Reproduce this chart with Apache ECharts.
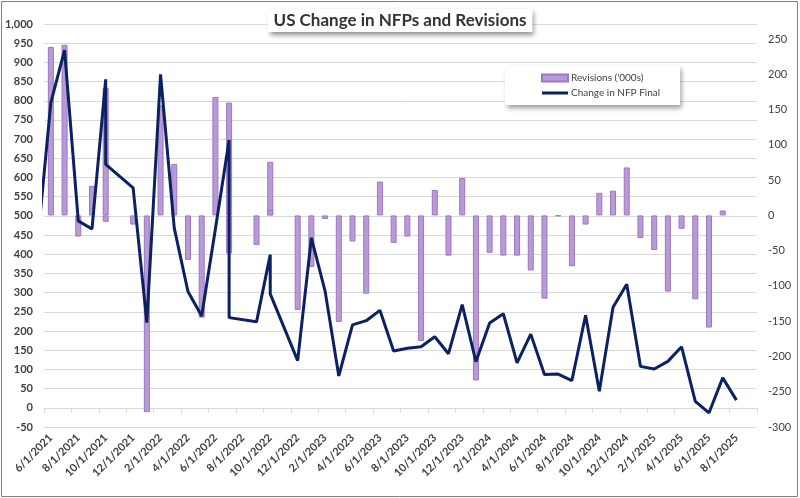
<!DOCTYPE html>
<html>
<head>
<meta charset="utf-8">
<script src="https://cdn.jsdelivr.net/npm/echarts@6/dist/echarts.min.js"></script>
<style>
  html, body { margin: 0; padding: 0; background: #fff; }
  #chart { width: 800px; height: 498px; }
</style>
</head>
<body>
<div id="chart"></div>
<script>
// x axis months (labels shown every other month)
const categories = [
    '6/1/2021', '7/1/2021', '8/1/2021', '9/1/2021', '10/1/2021', '11/1/2021', '12/1/2021',
    '1/1/2022', '2/1/2022', '3/1/2022', '4/1/2022', '5/1/2022', '6/1/2022', '7/1/2022',
    '8/1/2022', '9/1/2022', '10/1/2022', '11/1/2022', '12/1/2022',
    '1/1/2023', '2/1/2023', '3/1/2023', '4/1/2023', '5/1/2023', '6/1/2023', '7/1/2023',
    '8/1/2023', '9/1/2023', '10/1/2023', '11/1/2023', '12/1/2023',
    '1/1/2024', '2/1/2024', '3/1/2024', '4/1/2024', '5/1/2024', '6/1/2024', '7/1/2024',
    '8/1/2024', '9/1/2024', '10/1/2024', '11/1/2024', '12/1/2024',
    '1/1/2025', '2/1/2025', '3/1/2025', '4/1/2025', '5/1/2025', '6/1/2025', '7/1/2025',
    '8/1/2025', '9/1/2025'
];

// data rows (some months appear twice, some are missing)
const rowDates = [
    '5/1/2021', '6/1/2021', '7/1/2021', '8/1/2021', '9/1/2021', '10/1/2021', '10/1/2021',
    '12/1/2021', '1/1/2022', '2/1/2022', '3/1/2022', '4/1/2022', '5/1/2022', '6/1/2022',
    '7/1/2022', '7/1/2022', '9/1/2022', '10/1/2022', '10/1/2022', '12/1/2022',
    '1/1/2023', '2/1/2023', '3/1/2023', '4/1/2023', '5/1/2023', '6/1/2023', '7/1/2023',
    '8/1/2023', '9/1/2023', '10/1/2023', '11/1/2023', '12/1/2023',
    '1/1/2024', '2/1/2024', '3/1/2024', '4/1/2024', '5/1/2024', '6/1/2024', '7/1/2024',
    '8/1/2024', '9/1/2024', '10/1/2024', '11/1/2024', '12/1/2024',
    '1/1/2025', '2/1/2025', '3/1/2025', '4/1/2025', '5/1/2025', '6/1/2025', '7/1/2025',
    '8/1/2025'
];

const revisions = [
    null, 239, 242, -30, 42, 181, -9,
    -13, -279, 156, 73, -63, -145, 168,
    160, -54, -42, 76, 8, -134,
    -73, -5, -151, -37, -111, 48, -39,
    -30, -178, 36, -57, 53,
    -234, -53, -57, -57, -78, -118, -1,
    -72, -13, 32, 35, 68,
    -32, -49, -108, -19, -119, -159, 7,
    null
];

const nfpFinal = [
    420, 795, 932, 487, 466, 856, 634,
    573, 222, 869, 468, 303, 239, 466,
    698, 235, 224, 399, 297, 123,
    443, 304, 83, 216, 227, 254, 148,
    155, 159, 185, 141, 269,
    120, 221, 245, 117, 192, 87, 88,
    71, 241, 43, 262, 322,
    108, 101, 121, 159, 17, -13, 78,
    20
];

const FONT = 'Lato, "Noto Sans", sans-serif';
const BAR_COLOR = '#b89ad4';
const LINE_COLOR = '#0b2161';

function monthIndex(d) {
    const p = d.split('/');
    return (parseInt(p[2]) - 2021) * 12 + (parseInt(p[0]) - 6);
}

const barData = [];
rowDates.forEach((d, i) => {
    if (revisions[i] !== null && categories.indexOf(d) >= 0) {
        barData.push([d, revisions[i]]);
    }
});
const lineData = rowDates.map((d, i) => [monthIndex(d) + 0.5, nfpFinal[i]]);

const chart = echarts.init(document.getElementById('chart'));
chart.setOption({
    animation: false,
    textStyle: { fontFamily: FONT },
    graphic: [{
        type: 'rect',
        shape: { x: 1.5, y: 1.5, width: 796, height: 495 },
        style: { fill: 'none', stroke: '#7f7f7f', lineWidth: 1 },
        z: 100
    }],
    title: {
        text: 'US Change in NFPs and Revisions',
        left: 'center',
        top: 9,
        padding: [3, 6],
        backgroundColor: '#fff',
        shadowColor: 'rgba(0,0,0,0.45)',
        shadowBlur: 5,
        shadowOffsetX: 2,
        shadowOffsetY: 3,
        textStyle: { fontFamily: FONT, fontSize: 17, fontWeight: 'bold', color: '#333' }
    },
    legend: {
        orient: 'vertical',
        left: 505,
        top: 66,
        padding: [7, 20, 7, 36],
        itemGap: 5,
        itemWidth: 26,
        itemHeight: 7,
        backgroundColor: '#fff',
        shadowColor: 'rgba(0,0,0,0.4)',
        shadowBlur: 5,
        shadowOffsetX: 2,
        shadowOffsetY: 3,
        textStyle: { fontFamily: FONT, fontSize: 10, color: '#404040', padding: [0, 0, 0, -2] },
        data: [
            { name: "Revisions ('000s)", icon: 'rect' },
            { name: 'Change in NFP Final', icon: 'path://M0,0 L26,0 L26,3 L0,3 Z' }
        ]
    },
    grid: { left: 44, right: 43, top: 24, bottom: 71 },
    xAxis: [{
        type: 'category',
        data: categories,
        position: 'bottom',
        axisLine: { show: false, onZero: false },
        axisTick: { show: false },
        axisLabel: {
            interval: 1,
            rotate: 45,
            margin: 9,
            fontSize: 11,
            fontWeight: 'bold',
            color: '#404040'
        }
    }, {
        type: 'category',
        data: categories,
        position: 'bottom',
        axisLine: { show: true, onZero: true, onZeroAxisIndex: 0, lineStyle: { color: '#d9d9d9' } },
        axisTick: { show: true, interval: 1, length: 5, lineStyle: { color: '#d9d9d9' } },
        axisLabel: { show: false }
    }, {
        type: 'value',
        min: 0,
        max: categories.length,
        show: false
    }],
    yAxis: [{
        type: 'value',
        min: -50,
        max: 1000,
        interval: 50,
        axisLine: { show: false },
        axisTick: { show: false },
        axisLabel: {
            margin: 11,
            fontSize: 11,
            fontWeight: 'bold',
            color: '#404040',
            formatter: v => v.toLocaleString('en-US')
        },
        splitLine: { lineStyle: { color: '#d9d9d9', width: 1 } }
    }, {
        type: 'value',
        min: -300,
        max: 271.4,
        interval: 50,
        position: 'right',
        axisLine: { show: false },
        axisTick: { show: false },
        axisLabel: {
            showMaxLabel: false,
            margin: 11,
            fontSize: 11,
            color: '#404040'
        },
        splitLine: { show: false }
    }],
    series: [{
        name: "Revisions ('000s)",
        type: 'bar',
        xAxisIndex: 0,
        yAxisIndex: 1,
        barWidth: 6,
        itemStyle: { color: BAR_COLOR, borderColor: '#9c76c6', borderWidth: 1 },
        data: barData,
        z: 2
    }, {
        name: 'Change in NFP Final',
        type: 'line',
        xAxisIndex: 2,
        yAxisIndex: 0,
        symbol: 'none',
        clip: true,
        lineStyle: { color: LINE_COLOR, width: 3 },
        itemStyle: { color: LINE_COLOR },
        data: lineData,
        z: 3
    }]
});
</script>
</body>
</html>
